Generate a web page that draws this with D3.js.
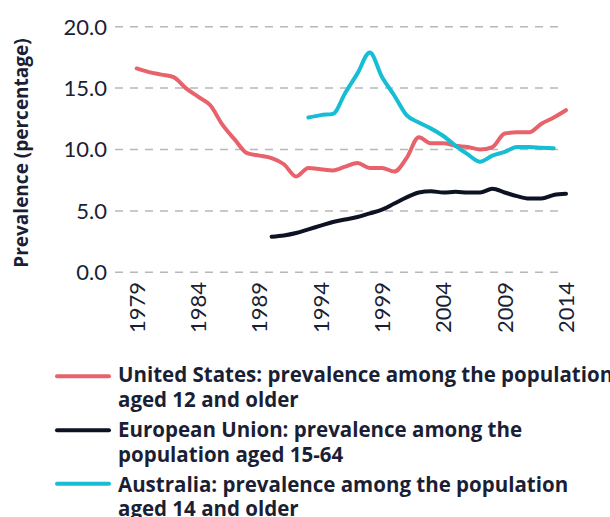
<!DOCTYPE html>
<html>
<head>
<meta charset="utf-8">
<script src="https://cdn.jsdelivr.net/npm/d3@7"></script>
<style>
  body { margin: 0; background: #fff; }
  svg { display: block; font-family: Lato, "Open Sans", sans-serif; }
</style>
</head>
<body>
<div class="chart"></div>
<script>
// values
var usYears = d3.range(1979, 2015);
var usValues = [16.6, 16.3, 16.1, 15.9, 15.0, 14.3, 13.6, 12.0, 10.8, 9.7,
    9.5, 9.3, 8.8, 7.8, 8.5, 8.4, 8.3, 8.6, 8.9, 8.5,
    8.5, 8.2, 9.3, 11.0, 10.5, 10.5, 10.3, 10.2, 10.0, 10.2,
    11.3, 11.4, 11.4, 12.1, 12.6, 13.2];

var euYears = d3.range(1990, 2015);
var euValues = [2.9, 3.0, 3.2, 3.5, 3.8, 4.1, 4.3, 4.5, 4.8, 5.1,
    5.6, 6.1, 6.5, 6.6, 6.5, 6.55, 6.5, 6.5, 6.8, 6.5,
    6.2, 6.0, 6.0, 6.3, 6.4];

var auYears = d3.range(1993, 2014);
var auValues = [12.6, 12.8, 12.9, 14.6, 16.2, 17.9, 15.9, 14.4, 12.8, 12.2,
    11.7, 11.1, 10.3, 9.6, 9.0, 9.5, 9.8, 10.2, 10.2, 10.15, 10.1];

var yTicks = [0, 5, 10, 15, 20];
var xTicks = [1979, 1984, 1989, 1994, 1999, 2004, 2009, 2014];

var seriesNames = [
    ["United States: prevalence among the population", "aged 12 and older"],
    ["European Union: prevalence among the", "population aged 15-64"],
    ["Australia: prevalence among the population", "aged 14 and older"]
];
var colors = ["#e8626b", "#0e1324", "#17bdd3"];

var width = 610, height = 517;
var textColor = "#1b1f35";

var series = [
    usYears.map((y, i) => ({ year: y, value: usValues[i] })),
    euYears.map((y, i) => ({ year: y, value: euValues[i] })),
    auYears.map((y, i) => ({ year: y, value: auValues[i] }))
];

var x = d3.scaleLinear().domain([1979, 2014]).range([136.7, 566]);
var y = d3.scaleLinear().domain([0, 20]).range([272.3, 26.7]);

var svg = d3.select(".chart").append("svg")
    .attr("width", width)
    .attr("height", height);

// dashed gridlines
svg.append("g")
    .selectAll("line")
    .data(yTicks).enter()
    .append("line")
    .attr("x1", 115)
    .attr("x2", 562)
    .attr("y1", d => y(d))
    .attr("y2", d => y(d))
    .attr("stroke", "#b8b8b8")
    .attr("stroke-width", 1.5)
    .attr("stroke-dasharray", "8,7");

svg.append("g")
    .selectAll("text")
    .data(yTicks).enter()
    .append("text")
    .attr("x", 107)
    .attr("y", d => y(d))
    .attr("dy", "0.36em")
    .attr("text-anchor", "end")
    .style("font-size", "22px")
    .style("fill", textColor)
    .text(d => d3.format(".1f")(d));

svg.append("g")
    .selectAll("text")
    .data(xTicks).enter()
    .append("text")
    .attr("transform", d => "translate(" + x(d) + ",282) rotate(-90)")
    .attr("dy", "0.36em")
    .attr("text-anchor", "end")
    .style("font-size", "22px")
    .style("fill", textColor)
    .text(d => d);

svg.append("text")
    .attr("transform", "translate(28,153) rotate(-90)")
    .attr("text-anchor", "middle")
    .style("font-family", "'Open Sans', sans-serif")
    .style("font-size", "19px")
    .style("font-weight", 700)
    .style("fill", textColor)
    .text("Prevalence (percentage)");

var line = d3.line()
    .curve(d3.curveMonotoneX)
    .x(d => x(d.year))
    .y(d => y(d.value));

svg.append("g")
    .selectAll("path")
    .data(series).enter()
    .append("path")
    .attr("d", line)
    .attr("fill", "none")
    .attr("stroke", (d, i) => colors[i])
    .attr("stroke-width", 4)
    .attr("stroke-linejoin", "round")
    .attr("stroke-linecap", "round");

// legend
var legendY = [382.3, 437.3, 491.7];
var legend = svg.append("g")
    .selectAll("g")
    .data(seriesNames).enter()
    .append("g")
    .attr("transform", (d, i) => "translate(0," + legendY[i] + ")");

legend.append("line")
    .attr("x1", 57)
    .attr("x2", 109)
    .attr("y1", (d, i) => -6 - i)
    .attr("y2", (d, i) => -6 - i)
    .attr("stroke", (d, i) => colors[i])
    .attr("stroke-width", 4)
    .attr("stroke-linecap", "round");

legend.append("text")
    .attr("x", 118)
    .style("font-family", "'Open Sans', sans-serif")
    .style("font-size", "20.5px")
    .style("font-weight", 700)
    .style("fill", textColor)
    .selectAll("tspan")
    .data(d => d).enter()
    .append("tspan")
    .attr("x", 118)
    .attr("dy", (d, i) => i === 0 ? 0 : 24.5)
    .text(d => d);
</script>
</body>
</html>
